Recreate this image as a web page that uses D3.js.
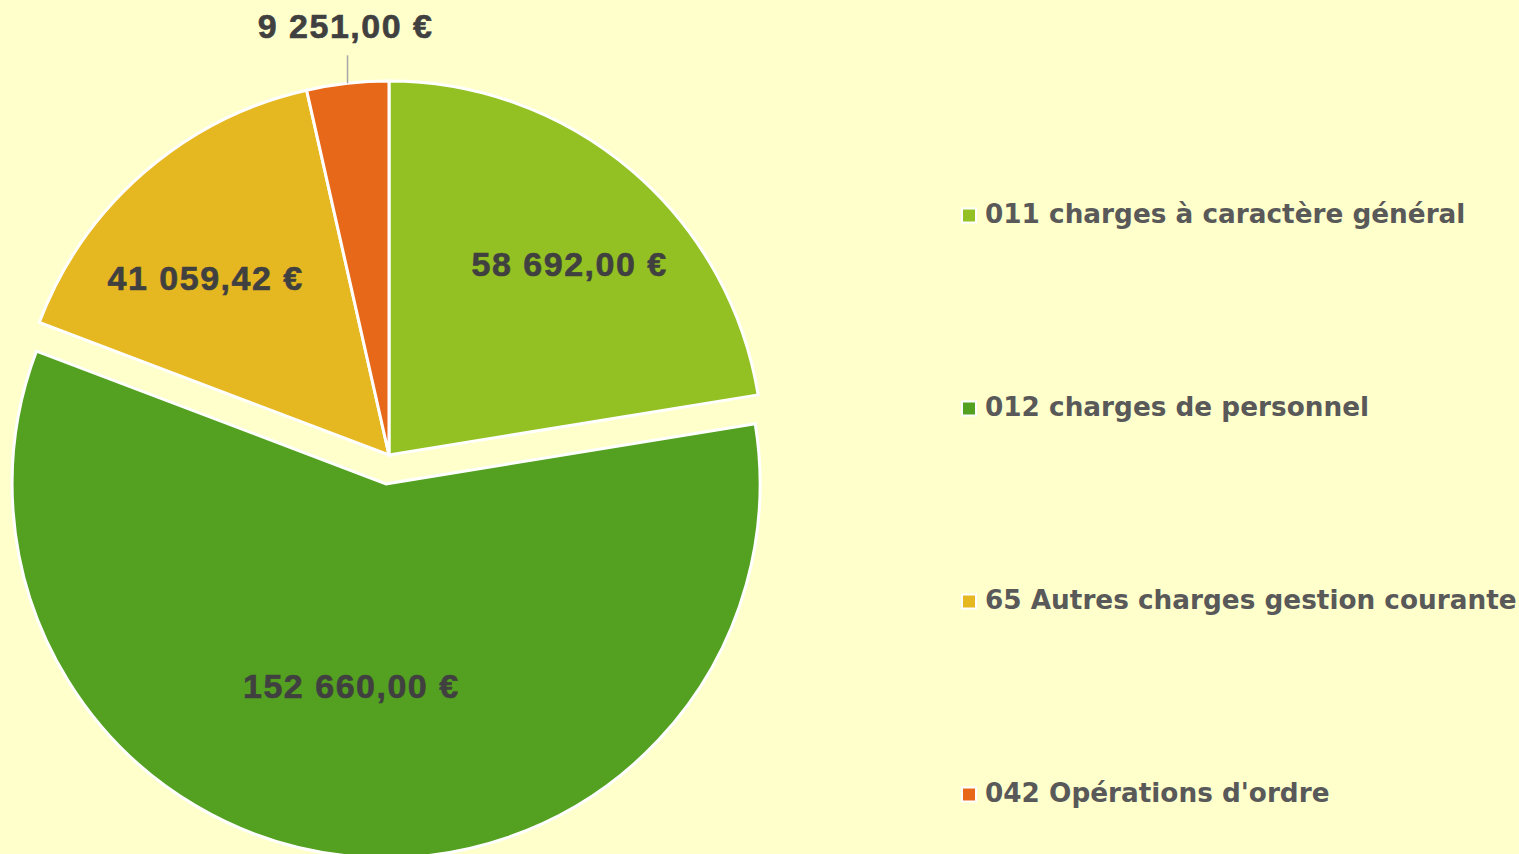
<!DOCTYPE html>
<html>
<head>
<meta charset="utf-8">
<script src="https://cdn.jsdelivr.net/npm/d3@7"></script>
<style>
	html, body { margin: 0; padding: 0; background: #FFFFCC; }
	svg { display: block; }
</style>
</head>
<body>
<svg id="chart"></svg>
<script>
(function(){
	'use strict';

	var categories = ["011 charges à caractère général", "012 charges de personnel", "65 Autres charges gestion courante", "042 Opérations d'ordre"];
	var amounts = [58692.00, 152660.00, 41059.42, 9251.00];
	var valueLabels = ["58 692,00 €", "152 660,00 €", "41 059,42 €", "9 251,00 €"];
	var colors = ["#93C123", "#54A021", "#E5B821", "#E8681A"];

	var width = 1519, height = 854;
	var cx = 389, cy = 455, radius = 374;

	var svg = d3.select("#chart").attr("width", width).attr("height", height);
	svg.append("rect").attr("width", width).attr("height", height).attr("fill", "#FFFFCC");

	var data = categories.map(function(c, i){
		return {name: c, amount: amounts[i], label: valueLabels[i], color: colors[i], explode: i === 1 ? 29 : 0};
	});

	var pie = d3.pie().sort(null).value(function(d){ return d.amount; });
	var arc = d3.arc().innerRadius(0).outerRadius(radius);

	var g = svg.append("g").attr("transform", "translate(" + cx + "," + cy + ")");

	function offset(d){
		var a = (d.startAngle + d.endAngle) / 2;
		return [Math.sin(a) * d.data.explode, -Math.cos(a) * d.data.explode];
	}

	var slices = g.selectAll(".arc")
		.data(pie(data))
		.enter().append("g")
		.attr("class", "arc")
		.attr("transform", function(d){ var o = offset(d); return "translate(" + o[0] + "," + o[1] + ")"; });

	slices.append("path")
		.attr("d", arc)
		.attr("fill", function(d){ return d.data.color; })
		.attr("stroke", "#FFFFFF")
		.attr("stroke-width", 3)
		.attr("stroke-linejoin", "miter");

	// label placement: radius and small angle shift (degrees) per slice
	var labelR = [263, 205, 255, 0];
	var labelShift = [3, 4, -5, 0];

	function styleLabel(t){
		t.attr("text-anchor", "middle")
			.attr("dy", "0.35em")
			.style("font", "bold 34px 'Liberation Sans', Arial, sans-serif")
			.style("letter-spacing", "1.5px")
			.attr("fill", "#404040")
			.attr("stroke", "#404040")
			.attr("stroke-width", 0.6);
	}

	slices.each(function(d, i){
		var s = d3.select(this);
		var a = (d.startAngle + d.endAngle) / 2 + labelShift[i] * Math.PI / 180;
		if (i === 3) {
			var x0 = Math.sin(a) * radius;
			var y0 = -Math.cos(a) * radius;
			s.append("line")
				.attr("x1", x0).attr("y1", y0)
				.attr("x2", x0).attr("y2", y0 - 28)
				.attr("stroke", "#A6A6A6").attr("stroke-width", 1.5);
			s.append("text")
				.attr("x", x0 - 2).attr("y", y0 - 57)
				.call(styleLabel)
				.text(d.data.label);
		} else {
			s.append("text")
				.attr("x", Math.sin(a) * labelR[i])
				.attr("y", -Math.cos(a) * labelR[i])
				.call(styleLabel)
				.text(d.data.label);
		}
	});

	// legend
	var legend = svg.append("g").attr("transform", "translate(963,0)");
	var rowY = d3.scalePoint().domain(categories).range([214, 793]);

	var items = legend.selectAll(".leg")
		.data(data)
		.enter().append("g")
		.attr("transform", function(d){ return "translate(0," + rowY(d.name) + ")"; });

	items.append("rect")
		.attr("x", -1).attr("y", -5.5)
		.attr("width", 14).attr("height", 14)
		.attr("fill", function(d){ return d.color; })
		.attr("stroke", "#FFFFFF").attr("stroke-width", 2);

	items.append("text")
		.attr("x", 22).attr("y", 0)
		.attr("dy", "0.35em")
		.style("font", "bold 26.3px 'DejaVu Sans', Verdana, sans-serif")
		.attr("fill", "#595959")
		.text(function(d){ return d.name; });
})();
</script>
</body>
</html>
